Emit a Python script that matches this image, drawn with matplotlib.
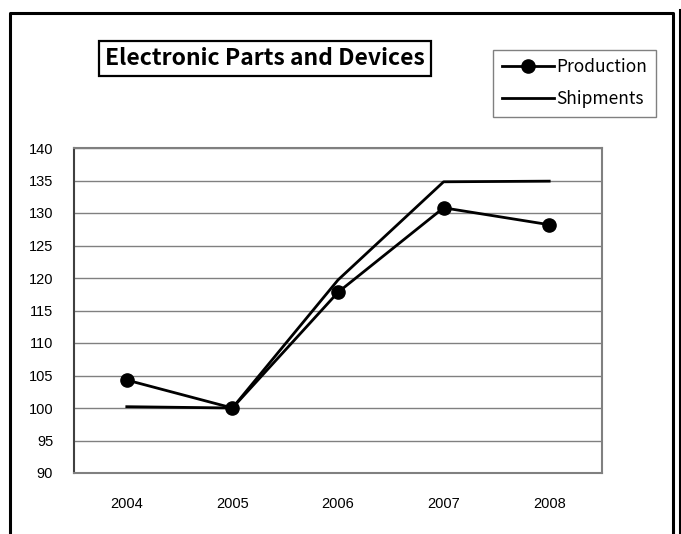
import matplotlib.pyplot as plt
from matplotlib.lines import Line2D

plt.rcParams['font.family'] = ['Liberation Sans', 'DejaVu Sans']

years = ['2004', '2005', '2006', '2007', '2008']
production = [104.3, 100.0, 117.8, 130.8, 128.2]
shipments = [100.2, 100.0, 119.7, 134.8, 134.9]
y_ticks = list(range(90, 141, 5))

W, H = 681, 534
fig = plt.figure(figsize=(W / 100, H / 100), dpi=100)


def fx(px):
    return px / W


def fy(py):
    return 1 - py / H


# outer frame (cut off at the bottom)
fig.add_artist(Line2D([fx(10), fx(10), fx(673), fx(673)], [0, fy(12.5), fy(12.5), 0],
                      color='black', lw=2.2))
fig.add_artist(Line2D([fx(679.5), fx(679.5)], [0, fy(10)], color='black', lw=2.2))

ax = fig.add_axes([fx(74), fy(473), fx(602) - fx(74), fy(148) - fy(473)])
x = range(len(years))
ax.plot(x, production, color='black', lw=2, marker='o', markersize=9.5, label='Production')
ax.plot(x, shipments, color='black', lw=2, label='Shipments')

ax.set_xlim(-0.5, len(years) - 0.5)
ax.set_ylim(90, 140)
ax.set_yticks(y_ticks)
ax.set_xticks(list(x))
ax.set_xticklabels(years)
ax.grid(axis='y', color='#808080', lw=1)
ax.set_axisbelow(True)
for s in ax.spines.values():
    s.set_color('#808080')
    s.set_linewidth(1.5)
ax.spines['left'].set_color('#404040')
ax.tick_params(length=0, labelsize=10.5)
ax.tick_params(axis='y', pad=15)
ax.tick_params(axis='x', pad=17)

# title box
fig.text(fx(265), fy(58.5), 'Electronic Parts and Devices', ha='center', va='center',
         fontsize=16.5, fontweight='bold', family=['Noto Sans CJK JP', 'DejaVu Sans'],
         bbox=dict(boxstyle='square,pad=0.28', fc='white', ec='black', lw=1.6))

leg = fig.legend(loc='upper left', bbox_to_anchor=(fx(493), fy(49.5)), frameon=True,
                 fancybox=False, edgecolor='#606060', handlelength=3.0,
                 handletextpad=0.15, labelspacing=0.8, borderpad=0.5,
                 borderaxespad=0,
                 prop={'family': ['Noto Sans CJK JP', 'DejaVu Sans'], 'size': 12.5})
leg.get_frame().set_linewidth(1)

fig.savefig('out.png', dpi=100)
